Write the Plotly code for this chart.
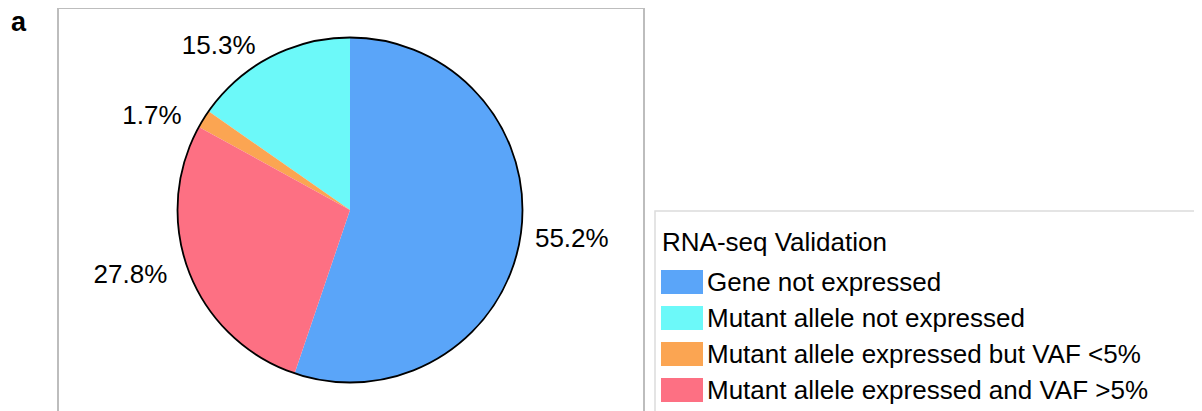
import plotly.graph_objects as go

# ---- data ----
categories = [
    "Gene not expressed",
    "Mutant allele not expressed",
    "Mutant allele expressed but VAF <5%",
    "Mutant allele expressed and VAF >5%",
]
percentages = [55.2, 15.3, 1.7, 27.8]
colors = ["#5AA5F9", "#6CF9F9", "#FBA552", "#FD7083"]
legend_title = "RNA-seq Validation"
panel_label = "a"

W, H = 1202, 411
OFF = 8  # default page body margin
FONT = "Liberation Sans, Arial, Helvetica, sans-serif"
NB = "\u00a0"


def px(x):
    return (x - OFF) / W


def py(y):
    return 1 - (y - OFF) / H


# pie geometry (pixels)
cx, cy, r = 350, 210, 172.5

# small gaps between the pie rim and its outside labels
label_templates = [
    NB + "%{value:.1f}%",
    "%{value:.1f}%" + NB,
    "%{value:.1f}%" + NB * 2,
    "%{value:.1f}%" + NB * 2,
]

fig = go.Figure()
fig.add_trace(go.Pie(
    labels=categories,
    values=percentages,
    marker=dict(colors=colors, line=dict(width=0)),
    sort=False,
    direction="counterclockwise",
    rotation=0,
    textposition="outside",
    texttemplate=label_templates,
    textfont=dict(family=FONT, size=26, color="black"),
    domain=dict(x=[px(cx - r), px(cx + r)], y=[py(cy + r), py(cy - r)]),
    showlegend=False,
    hoverinfo="skip",
))

shapes = [
    # panel frame around pie
    dict(type="rect", xref="paper", yref="paper",
         x0=px(58), x1=px(644), y0=py(440), y1=py(8),
         line=dict(color="#BDBDBD", width=2), fillcolor="rgba(0,0,0,0)"),
    # outer outline of pie
    dict(type="circle", xref="paper", yref="paper",
         x0=px(cx - r), x1=px(cx + r), y0=py(cy + r), y1=py(cy - r),
         line=dict(color="black", width=1.8)),
    # legend frame
    dict(type="rect", xref="paper", yref="paper",
         x0=px(655), x1=px(1240), y0=py(440), y1=py(211),
         line=dict(color="#DCDCDC", width=1.5), fillcolor="rgba(0,0,0,0)"),
]

annotations = [
    dict(text="<b>" + panel_label + "</b>", x=px(9), y=py(22), xref="paper", yref="paper",
         xanchor="left", yanchor="middle", showarrow=False,
         font=dict(family=FONT, size=27, color="black")),
    dict(text=legend_title, x=px(660), y=py(242), xref="paper", yref="paper",
         xanchor="left", yanchor="middle", showarrow=False,
         font=dict(family=FONT, size=26, color="black")),
]

for i, (cat, col) in enumerate(zip(categories, colors)):
    yc = 282 + 36 * i
    shapes.append(dict(type="rect", xref="paper", yref="paper",
                       x0=px(661), x1=px(703), y0=py(yc + 12), y1=py(yc - 12),
                       line=dict(width=0), fillcolor=col))
    annotations.append(dict(text=cat, x=px(705), y=py(yc), xref="paper", yref="paper",
                            xanchor="left", yanchor="middle", showarrow=False,
                            font=dict(family=FONT, size=26, color="black")))

fig.update_layout(
    width=W, height=H,
    margin=dict(l=0, r=0, t=0, b=0),
    paper_bgcolor="white",
    plot_bgcolor="white",
    shapes=shapes,
    annotations=annotations,
)

fig.write_html("out.html")
